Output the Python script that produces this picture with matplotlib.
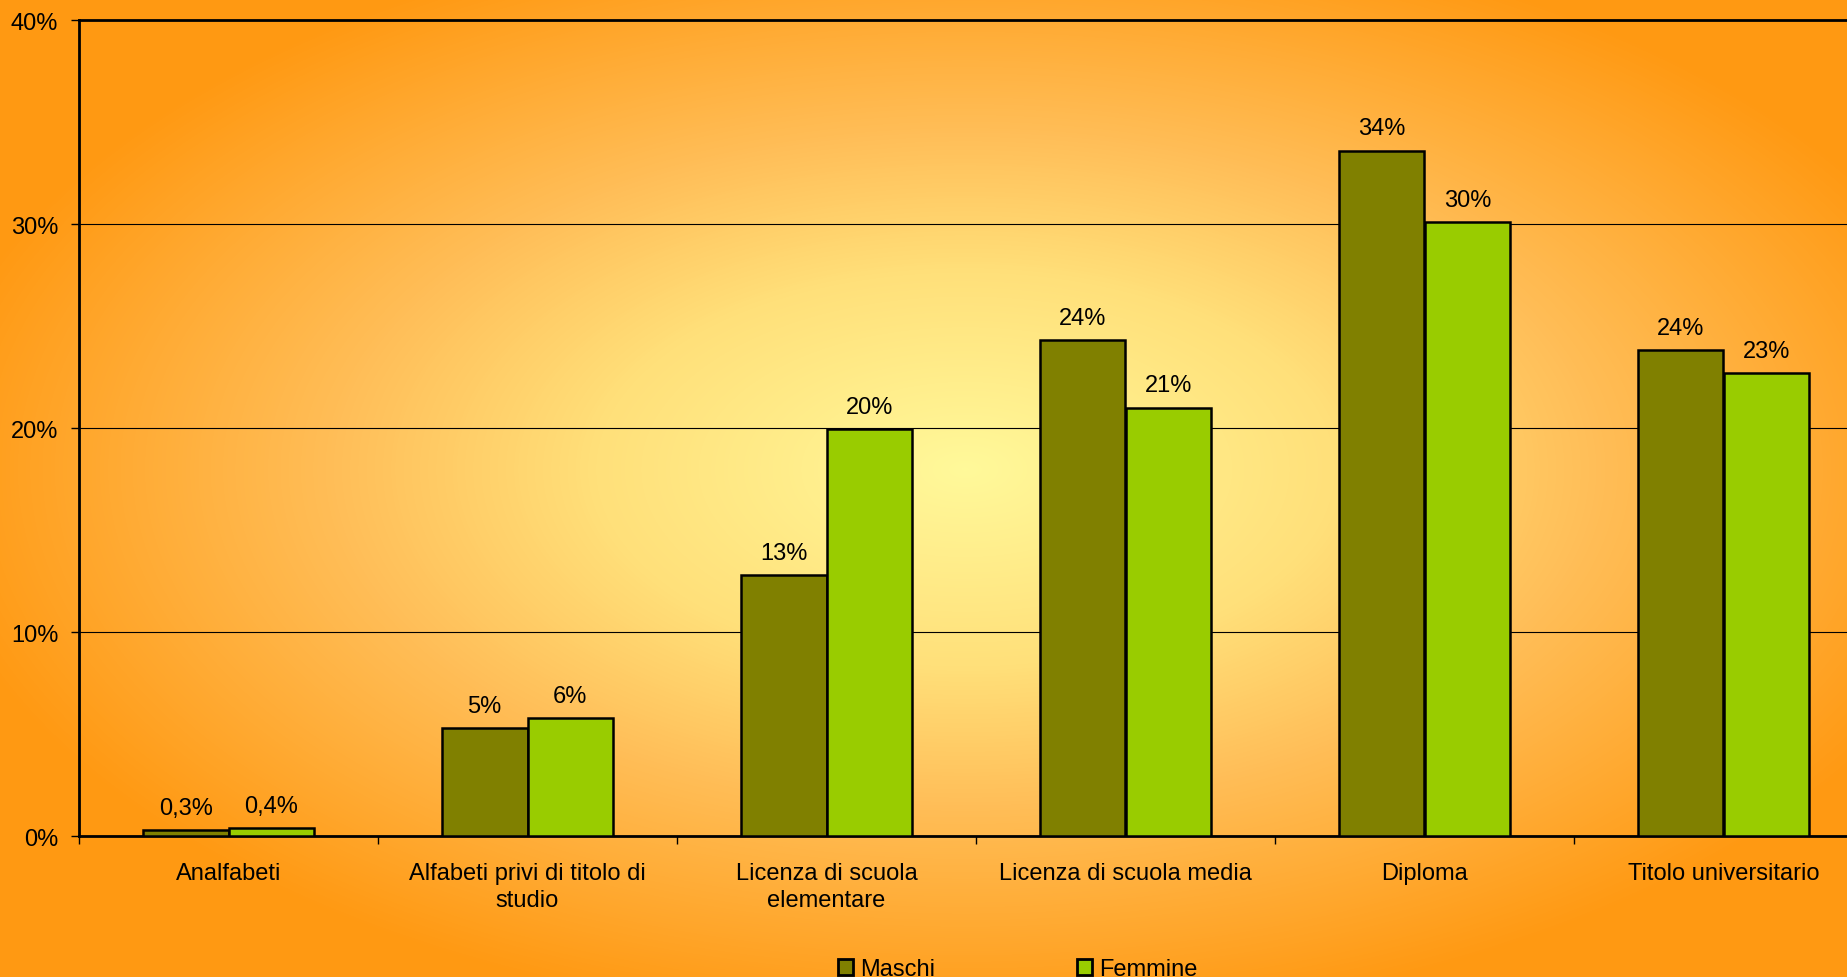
import matplotlib
matplotlib.use("Agg")
import matplotlib.pyplot as plt
import numpy as np
from matplotlib.colors import LinearSegmentedColormap
from matplotlib.patches import Patch

plt.rcParams["font.family"] = ["Liberation Sans", "DejaVu Sans"]

categories = [
    "Analfabeti",
    "Alfabeti privi di titolo di\nstudio",
    "Licenza di scuola\nelementare",
    "Licenza di scuola media",
    "Diploma",
    "Titolo universitario",
]
maschi = [0.3, 5.3, 12.8, 24.3, 33.6, 23.8]
femmine = [0.4, 5.8, 19.95, 21.0, 30.1, 22.7]
series_names = ["Maschi", "Femmine"]
yticks = [0, 10, 20, 30, 40]

C_MASCHI = "#808000"
C_FEMMINE = "#99CC00"
FS = 17


def fmt(v):
    if v < 1:
        return f"{v:.1f}".replace(".", ",") + "%"
    return f"{int(round(v))}%"


W, H = 1847, 978
fig = plt.figure(figsize=(W / 100, H / 100), dpi=100)

# radial background gradient
bg = fig.add_axes([0, 0, 1, 1], zorder=-10)
xx, yy = np.meshgrid(np.arange(W), np.arange(H))
r = np.sqrt(((xx - 965) / 1050.0) ** 2 + ((yy - 470) / 560.0) ** 2)
r = np.clip(r, 0, 1)
cmap = LinearSegmentedColormap.from_list(
    "bg", [(0, "#FFF99A"), (0.35, "#FFE07A"), (0.6, "#FFBE58"), (1, "#FF9912")]
)
bg.imshow(r, cmap=cmap, vmin=0, vmax=1, aspect="auto", interpolation="bilinear")
bg.axis("off")

ax = fig.add_axes([79 / W, 1 - 837 / H, 1794 / W, (837 - 21) / H])
ax.set_facecolor("none")

x = np.arange(len(categories)) + 0.5
bw = 0.287
b1 = ax.bar(x - bw / 2, maschi, bw, color=C_MASCHI, edgecolor="black", linewidth=1.8, zorder=3)
b2 = ax.bar(x + bw / 2, femmine, bw, color=C_FEMMINE, edgecolor="black", linewidth=1.8, zorder=3)

for bars, vals in ((b1, maschi), (b2, femmine)):
    for rect, v in zip(bars, vals):
        ax.annotate(fmt(v), (rect.get_x() + rect.get_width() / 2, v),
                    xytext=(0, 8), textcoords="offset points",
                    ha="center", va="bottom", fontsize=FS, color="black")

ax.set_xlim(0, len(categories))
ax.set_ylim(0, 40)
ax.set_yticks(yticks)
ax.set_yticklabels([f"{t}%" for t in yticks], fontsize=FS)
ax.yaxis.grid(True, color="black", linewidth=0.8, zorder=1)
ax.set_axisbelow(True)

ax.set_xticks(np.arange(len(categories) + 1))
ax.set_xticklabels([])
ax.set_xticks(x, minor=True)
ax.set_xticklabels(categories, minor=True, fontsize=FS, linespacing=1.3)
ax.tick_params(axis="x", which="major", length=6, width=1, direction="out")
ax.tick_params(axis="x", which="minor", length=0, pad=19)
ax.tick_params(axis="y", length=6, width=1, direction="out", pad=9)

for s in ax.spines.values():
    s.set_linewidth(2)
ax.spines["right"].set_visible(False)

handles = [Patch(facecolor=C_MASCHI, edgecolor="black", linewidth=2),
           Patch(facecolor=C_FEMMINE, edgecolor="black", linewidth=2)]
fig.legend(handles, series_names, loc="center", bbox_to_anchor=(0.551, 0.008),
           ncol=2, frameon=False, fontsize=FS, handlelength=0.65, handleheight=0.65,
           handletextpad=0.3, columnspacing=6.0)

fig.savefig("out.png", dpi=100)
